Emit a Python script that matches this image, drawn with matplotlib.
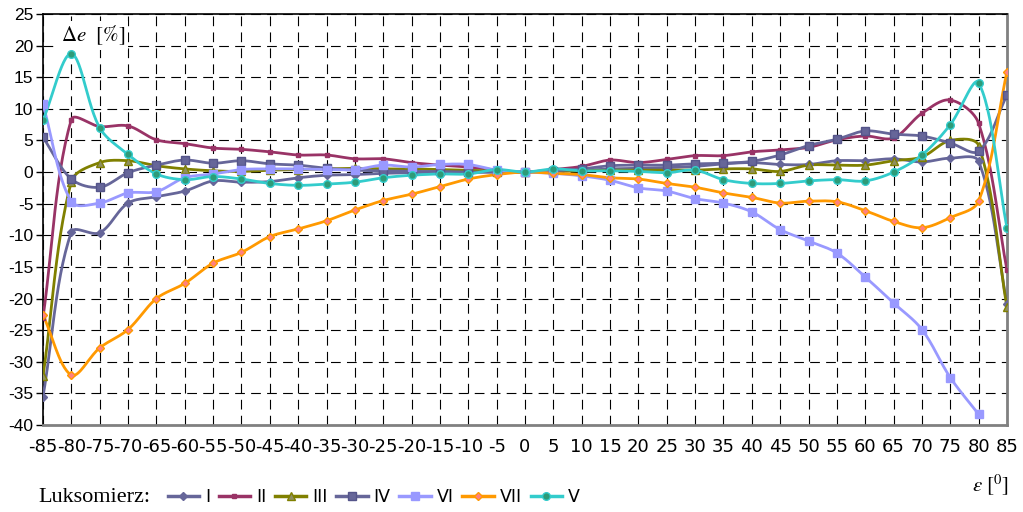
import numpy as np
import matplotlib.pyplot as plt
from matplotlib.lines import Line2D

plt.rcParams['lines.scale_dashes'] = False
plt.rcParams['mathtext.fontset'] = 'stix'

# angle of incidence [deg]
angles = np.arange(-85, 90, 5)

# relative error per luxmeter [%]
err_I = [-35.5, -9.5, -9.6, -4.9, -3.9, -3.0, -1.4, -1.6, -1.5, -0.9, -0.5, -0.4, -0.2, -0.1, 0.0, 0.0, 0.0, 0.0,
         0.1, 0.3, 0.5, 0.6, 0.7, 0.9, 1.3, 1.5, 1.2, 1.2, 1.8, 1.8, 2.1, 1.6, 2.2, 1.7, -20.8]
err_II = [-23.0, 8.3, 7.2, 7.3, 5.1, 4.5, 3.8, 3.6, 3.2, 2.7, 2.7, 2.1, 2.1, 1.5, 1.1, 0.8, 0.3, 0.0,
          0.4, 0.9, 1.9, 1.5, 2.0, 2.6, 2.6, 3.2, 3.5, 3.9, 5.1, 5.7, 5.4, 9.3, 11.4, 7.7, -15.5]
err_III = [-32.3, -1.5, 1.5, 1.8, 1.0, 0.5, 0.2, 0.1, 0.3, 0.4, 0.5, 0.6, 0.5, 0.5, 0.4, 0.3, 0.1, 0.0,
           0.1, 0.2, 0.3, 0.3, 0.3, 0.3, 0.5, 0.5, 0.1, 1.1, 1.1, 1.1, 1.8, 2.4, 5.0, 4.2, -21.4]
err_IV = [5.5, -1.1, -2.4, -0.1, 1.1, 1.9, 1.4, 1.8, 1.3, 1.1, 0.6, 0.3, 0.2, 0.1, 0.1, 0.0, 0.0, 0.0,
          0.2, 0.5, 1.0, 1.1, 1.1, 1.3, 1.4, 1.7, 2.7, 4.2, 5.2, 6.5, 6.0, 5.7, 4.6, 3.3, 12.2]
err_VI = [10.7, -4.7, -4.9, -3.3, -3.1, -0.9, -0.3, 0.4, 0.5, 0.5, 0.4, 0.4, 1.1, 0.8, 1.2, 1.2, 0.3, 0.0,
          -0.2, -0.6, -1.3, -2.5, -3.0, -4.2, -4.9, -6.3, -9.1, -10.9, -12.8, -16.6, -20.7, -24.9, -32.5, -38.3,
          np.nan]
err_VII = [-22.6, -32.1, -27.8, -24.9, -20.0, -17.6, -14.4, -12.7, -10.2, -9.0, -7.7, -6.0, -4.5, -3.5, -2.3, -1.1,
           -0.4, 0.0,
           -0.2, -0.4, -0.9, -1.1, -1.8, -2.4, -3.3, -4.0, -4.9, -4.6, -4.7, -6.1, -7.8, -8.8, -7.2, -4.6, 15.9]
err_V = [8.2, 18.7, 7.0, 2.8, -0.3, -1.2, -0.7, -1.1, -1.8, -2.1, -1.9, -1.6, -0.9, -0.5, -0.3, -0.3, 0.4, 0.0,
         0.5, 0.2, 0.2, 0.1, -0.1, 0.3, -1.2, -1.8, -1.8, -1.4, -1.2, -1.4, 0.0, 2.7, 7.5, 14.1, -8.8]

# name, values, line colour, marker, marker face, marker edge, marker size
series = [
    ('I', err_I, '#666699', 'D', '#666699', '#666699', 4.5),
    ('II', err_II, '#993366', 's', '#993366', '#993366', 3.5),
    ('III', err_III, '#808000', '^', '#8F8F60', '#808000', 6),
    ('IV', err_IV, '#666699', 's', '#666699', '#55558A', 6),
    ('VI', err_VI, '#9999FF', 's', '#9999FF', '#9999FF', 6),
    ('VII', err_VII, '#FF9900', 'D', '#FF8080', '#FF9900', 4.5),
    ('V', err_V, '#33CCCC', 'o', '#2E9B78', '#33CCCC', 5.5),
]

# pixels per data unit, used to weigh the smoothing by on-screen segment length
SX, SY = 964 / 170, 411 / 65


def smooth(x, y, n=30, tension=1 / 3):
    # spreadsheet-style smoothed line: cubic Bezier with control arms
    # split in proportion to the neighbouring segment lengths
    x = np.asarray(x, float)
    y = np.asarray(y, float)
    ok = ~np.isnan(y)
    pts = np.column_stack([x[ok], y[ok]])
    scr = pts * [SX, SY]
    m = len(pts)
    c_out = np.zeros_like(pts)
    c_in = np.zeros_like(pts)
    for i in range(m):
        p_prev = pts[max(i - 1, 0)]
        p_next = pts[min(i + 1, m - 1)]
        d1 = np.hypot(*(scr[i] - scr[max(i - 1, 0)]))
        d2 = np.hypot(*(scr[min(i + 1, m - 1)] - scr[i]))
        tot = d1 + d2 if d1 + d2 > 0 else 1
        c_in[i] = pts[i] - tension * d1 / tot * (p_next - p_prev)
        c_out[i] = pts[i] + tension * d2 / tot * (p_next - p_prev)
    t = np.linspace(0, 1, n)[:, None]
    segs = []
    for i in range(m - 1):
        p0, c1, c2, p3 = pts[i], c_out[i], c_in[i + 1], pts[i + 1]
        segs.append((1 - t) ** 3 * p0 + 3 * (1 - t) ** 2 * t * c1 + 3 * (1 - t) * t ** 2 * c2 + t ** 3 * p3)
    b = np.vstack(segs)
    return b[:, 0], b[:, 1]


fig = plt.figure(figsize=(10.23, 5.12), dpi=100)
ax = fig.add_axes([43 / 1023, 1 - 425 / 512, 964 / 1023, 411 / 512])

handles = []
for name, vals, col, mk, mfc, mec, ms in series:
    sx, sy = smooth(angles, vals)
    ax.plot(sx, sy, color=col, lw=2, zorder=3)
    ax.plot(angles, vals, ls='none', marker=mk, ms=ms, mfc=mfc, mec=mec, mew=1, zorder=4)
    handles.append(Line2D([], [], color=col, lw=2.5, marker=mk, ms=ms, mfc=mfc, mec=mec, label=name))

ax.set_xlim(-85, 85)
ax.set_ylim(-40, 25)
ax.set_xticks(angles)
ax.set_xticklabels([str(a) for a in angles], family=['Liberation Sans Narrow', 'DejaVu Sans'], fontsize=13)
ax.set_yticks(np.arange(-40, 30, 5))
ax.set_yticklabels([str(v) for v in range(-40, 30, 5)], family='Liberation Sans', fontsize=12.5)
ax.tick_params(axis='x', length=0, pad=9)
ax.tick_params(axis='y', length=5, width=1, pad=2, color='black')

ax.grid(True, color='black', lw=0.8, linestyle=(0, (7, 4.5)), zorder=1)
ax.set_axisbelow(True)

ax.spines['left'].set_color('black')
ax.spines['top'].set_color('black')
ax.spines['left'].set_linewidth(1.2)
ax.spines['top'].set_linewidth(1.2)
for s in ('right', 'bottom'):
    ax.spines[s].set_color('#808080')
    ax.spines[s].set_linewidth(2)

# axis titles
ax.text(-81.8, 21.6, r'$\Delta e$  [%]', fontsize=15, family='STIXGeneral', va='center', ha='left', zorder=2,
        bbox=dict(facecolor='white', edgecolor='none', pad=2))
fig.text(972 / 1023, 1 - 485 / 512, r'$\varepsilon$ [$^0$]', fontsize=15, family='STIXGeneral',
         ha='left', va='center')

fig.text(38 / 1023, 1 - 497 / 512, 'Luksomierz:', fontsize=16, family='Liberation Serif',
         ha='left', va='center')
fig.legend(handles=handles, loc='center left', bbox_to_anchor=(152 / 1023, 1 - 497 / 512), ncol=7,
           frameon=False, handlelength=1.8, handletextpad=0.35, columnspacing=0.5,
           prop={'family': ['Liberation Sans Narrow', 'DejaVu Sans'], 'size': 12.5})

fig.savefig('out.png', dpi=100)
